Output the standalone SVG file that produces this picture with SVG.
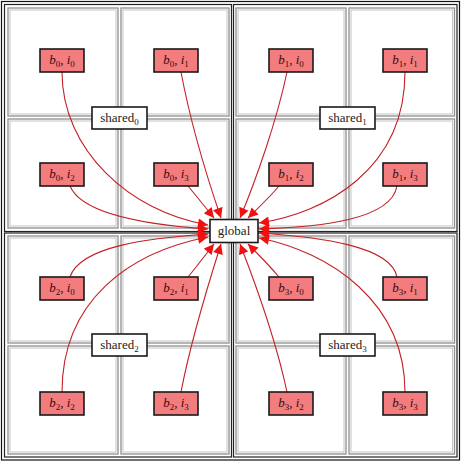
<svg xmlns="http://www.w3.org/2000/svg" width="461" height="462" viewBox="0 0 461 462">
<style>
.frame{fill:none;stroke:#111;stroke-width:1.2}
.blk{fill:none;stroke:#222;stroke-width:1.2}
.cell{fill:#fff;stroke:#8e8e8e;stroke-width:1.3}
.cellin{fill:none;stroke:#c4c4c4;stroke-width:1}
.nd{fill:#f27c7e;stroke:#1a1a1a;stroke-width:1.6}
.lbl{fill:#fff;stroke:#1a1a1a;stroke-width:1.6}
.t{font-family:"Liberation Serif","DejaVu Serif",serif;font-size:13px;fill:#3a0c0c;text-anchor:middle}
.t .v{font-style:italic}
.s{font-family:"Liberation Serif","DejaVu Serif",serif;font-size:13px;fill:#222;text-anchor:middle}
.e{fill:none;stroke:#c42026;stroke-width:1.1;marker-end:url(#ah)}
</style>
<defs>
<marker id="ah" markerUnits="userSpaceOnUse" viewBox="0 0 10 10" refX="10" refY="5" markerWidth="11" markerHeight="10" orient="auto">
<path d="M0,0 L10,5 L0,10 z" fill="#f01010"/>
</marker>
</defs>
<rect width="461" height="462" fill="#fff"/>
<g id="frame">
<rect class="frame" x="1.5" y="1.5" width="458" height="458.5"/>
<rect class="blk" x="4.5" y="4.5" width="227" height="227"/>
<rect class="blk" x="233.5" y="4.5" width="223.5" height="227"/>
<rect class="blk" x="4.5" y="233" width="227" height="224"/>
<rect class="blk" x="233.5" y="233" width="223.5" height="224"/>
</g>
<g id="cells">
<rect class="cell" x="8" y="8" width="110" height="108"/><rect class="cellin" x="10" y="10" width="106" height="104"/>
<rect class="cell" x="121" y="8" width="108" height="108"/><rect class="cellin" x="123" y="10" width="104" height="104"/>
<rect class="cell" x="236" y="8" width="110" height="108"/><rect class="cellin" x="238" y="10" width="106" height="104"/>
<rect class="cell" x="349" y="8" width="105.5" height="108"/><rect class="cellin" x="351" y="10" width="101.5" height="104"/>
<rect class="cell" x="8" y="119" width="110" height="109"/><rect class="cellin" x="10" y="121" width="106" height="105"/>
<rect class="cell" x="121" y="119" width="108" height="109"/><rect class="cellin" x="123" y="121" width="104" height="105"/>
<rect class="cell" x="236" y="119" width="110" height="109"/><rect class="cellin" x="238" y="121" width="106" height="105"/>
<rect class="cell" x="349" y="119" width="105.5" height="109"/><rect class="cellin" x="351" y="121" width="101.5" height="105"/>
<rect class="cell" x="8" y="236" width="110" height="107"/><rect class="cellin" x="10" y="238" width="106" height="103"/>
<rect class="cell" x="121" y="236" width="108" height="107"/><rect class="cellin" x="123" y="238" width="104" height="103"/>
<rect class="cell" x="236" y="236" width="110" height="107"/><rect class="cellin" x="238" y="238" width="106" height="103"/>
<rect class="cell" x="349" y="236" width="105.5" height="107"/><rect class="cellin" x="351" y="238" width="101.5" height="103"/>
<rect class="cell" x="8" y="346" width="110" height="108"/><rect class="cellin" x="10" y="348" width="106" height="104"/>
<rect class="cell" x="121" y="346" width="108" height="108"/><rect class="cellin" x="123" y="348" width="104" height="104"/>
<rect class="cell" x="236" y="346" width="110" height="108"/><rect class="cellin" x="238" y="348" width="106" height="104"/>
<rect class="cell" x="349" y="346" width="105.5" height="108"/><rect class="cellin" x="351" y="348" width="101.5" height="104"/>
</g>
<g id="connectors">
<path class="e" d="M62,72 C62,150 130,212 208,225"/>
<path class="e" d="M181,72 C190,120 208,180 221,218"/>
<path class="e" d="M70,186 C82,215 150,225 208,229"/>
<path class="e" d="M188,186 C198,198 206,208 214,218"/>
<path class="e" d="M287,72 C277,120 256,180 240,218"/>
<path class="e" d="M405,72 C405,170 325,213 259,223"/>
<path class="e" d="M279,186 C269,198 258,208 248,218"/>
<path class="e" d="M397,186 C391,220 320,227 259,229"/>
<path class="e" d="M70,277 C80,246 150,238 208,234"/>
<path class="e" d="M188,277 C198,265 206,254 214,244"/>
<path class="e" d="M62,392 C62,300 130,252 208,237"/>
<path class="e" d="M181,392 C190,345 208,285 221,244"/>
<path class="e" d="M279,277 C269,265 258,254 248,244"/>
<path class="e" d="M397,277 C391,246 320,237 259,233"/>
<path class="e" d="M287,392 C277,345 256,285 240,244"/>
<path class="e" d="M405,392 C405,302 330,252 259,238"/>
</g>
<g id="b0i0"><rect class="nd" x="40" y="49" width="44" height="23"/><text class="t" x="62" y="64"><tspan class="v">b</tspan><tspan dy="3" font-size="9">0</tspan><tspan dy="-3">, </tspan><tspan class="v">i</tspan><tspan dy="3" font-size="9">0</tspan></text></g>
<g id="b0i1"><rect class="nd" x="154" y="49" width="44" height="23"/><text class="t" x="176" y="64"><tspan class="v">b</tspan><tspan dy="3" font-size="9">0</tspan><tspan dy="-3">, </tspan><tspan class="v">i</tspan><tspan dy="3" font-size="9">1</tspan></text></g>
<g id="b0i2"><rect class="nd" x="40" y="163" width="44" height="23"/><text class="t" x="62" y="178"><tspan class="v">b</tspan><tspan dy="3" font-size="9">0</tspan><tspan dy="-3">, </tspan><tspan class="v">i</tspan><tspan dy="3" font-size="9">2</tspan></text></g>
<g id="b0i3"><rect class="nd" x="154" y="163" width="44" height="23"/><text class="t" x="176" y="178"><tspan class="v">b</tspan><tspan dy="3" font-size="9">0</tspan><tspan dy="-3">, </tspan><tspan class="v">i</tspan><tspan dy="3" font-size="9">3</tspan></text></g>
<g id="b1i0"><rect class="nd" x="269" y="49" width="44" height="23"/><text class="t" x="291" y="64"><tspan class="v">b</tspan><tspan dy="3" font-size="9">1</tspan><tspan dy="-3">, </tspan><tspan class="v">i</tspan><tspan dy="3" font-size="9">0</tspan></text></g>
<g id="b1i1"><rect class="nd" x="383" y="49" width="44" height="23"/><text class="t" x="405" y="64"><tspan class="v">b</tspan><tspan dy="3" font-size="9">1</tspan><tspan dy="-3">, </tspan><tspan class="v">i</tspan><tspan dy="3" font-size="9">1</tspan></text></g>
<g id="b1i2"><rect class="nd" x="269" y="163" width="44" height="23"/><text class="t" x="291" y="178"><tspan class="v">b</tspan><tspan dy="3" font-size="9">1</tspan><tspan dy="-3">, </tspan><tspan class="v">i</tspan><tspan dy="3" font-size="9">2</tspan></text></g>
<g id="b1i3"><rect class="nd" x="383" y="163" width="44" height="23"/><text class="t" x="405" y="178"><tspan class="v">b</tspan><tspan dy="3" font-size="9">1</tspan><tspan dy="-3">, </tspan><tspan class="v">i</tspan><tspan dy="3" font-size="9">3</tspan></text></g>
<g id="b2i0"><rect class="nd" x="40" y="277" width="44" height="23"/><text class="t" x="62" y="292"><tspan class="v">b</tspan><tspan dy="3" font-size="9">2</tspan><tspan dy="-3">, </tspan><tspan class="v">i</tspan><tspan dy="3" font-size="9">0</tspan></text></g>
<g id="b2i1"><rect class="nd" x="154" y="277" width="44" height="23"/><text class="t" x="176" y="292"><tspan class="v">b</tspan><tspan dy="3" font-size="9">2</tspan><tspan dy="-3">, </tspan><tspan class="v">i</tspan><tspan dy="3" font-size="9">1</tspan></text></g>
<g id="b2i2"><rect class="nd" x="40" y="392" width="44" height="23"/><text class="t" x="62" y="407"><tspan class="v">b</tspan><tspan dy="3" font-size="9">2</tspan><tspan dy="-3">, </tspan><tspan class="v">i</tspan><tspan dy="3" font-size="9">2</tspan></text></g>
<g id="b2i3"><rect class="nd" x="154" y="392" width="44" height="23"/><text class="t" x="176" y="407"><tspan class="v">b</tspan><tspan dy="3" font-size="9">2</tspan><tspan dy="-3">, </tspan><tspan class="v">i</tspan><tspan dy="3" font-size="9">3</tspan></text></g>
<g id="b3i0"><rect class="nd" x="269" y="277" width="44" height="23"/><text class="t" x="291" y="292"><tspan class="v">b</tspan><tspan dy="3" font-size="9">3</tspan><tspan dy="-3">, </tspan><tspan class="v">i</tspan><tspan dy="3" font-size="9">0</tspan></text></g>
<g id="b3i1"><rect class="nd" x="383" y="277" width="44" height="23"/><text class="t" x="405" y="292"><tspan class="v">b</tspan><tspan dy="3" font-size="9">3</tspan><tspan dy="-3">, </tspan><tspan class="v">i</tspan><tspan dy="3" font-size="9">1</tspan></text></g>
<g id="b3i2"><rect class="nd" x="269" y="392" width="44" height="23"/><text class="t" x="291" y="407"><tspan class="v">b</tspan><tspan dy="3" font-size="9">3</tspan><tspan dy="-3">, </tspan><tspan class="v">i</tspan><tspan dy="3" font-size="9">2</tspan></text></g>
<g id="b3i3"><rect class="nd" x="383" y="392" width="44" height="23"/><text class="t" x="405" y="407"><tspan class="v">b</tspan><tspan dy="3" font-size="9">3</tspan><tspan dy="-3">, </tspan><tspan class="v">i</tspan><tspan dy="3" font-size="9">3</tspan></text></g>
<g id="shared0"><rect class="lbl" x="92" y="107" width="55" height="22"/><text class="s" x="119.5" y="122">shared<tspan dy="3" font-size="9">0</tspan></text></g>
<g id="shared1"><rect class="lbl" x="320" y="107" width="55" height="22"/><text class="s" x="347.5" y="122">shared<tspan dy="3" font-size="9">1</tspan></text></g>
<g id="shared2"><rect class="lbl" x="92" y="334" width="55" height="22"/><text class="s" x="119.5" y="349">shared<tspan dy="3" font-size="9">2</tspan></text></g>
<g id="shared3"><rect class="lbl" x="320" y="334" width="55" height="22"/><text class="s" x="347.5" y="349">shared<tspan dy="3" font-size="9">3</tspan></text></g>
<g id="global"><rect class="lbl" x="210" y="219.5" width="48" height="23"/><text class="s" x="234" y="235">global</text></g>
</svg>
